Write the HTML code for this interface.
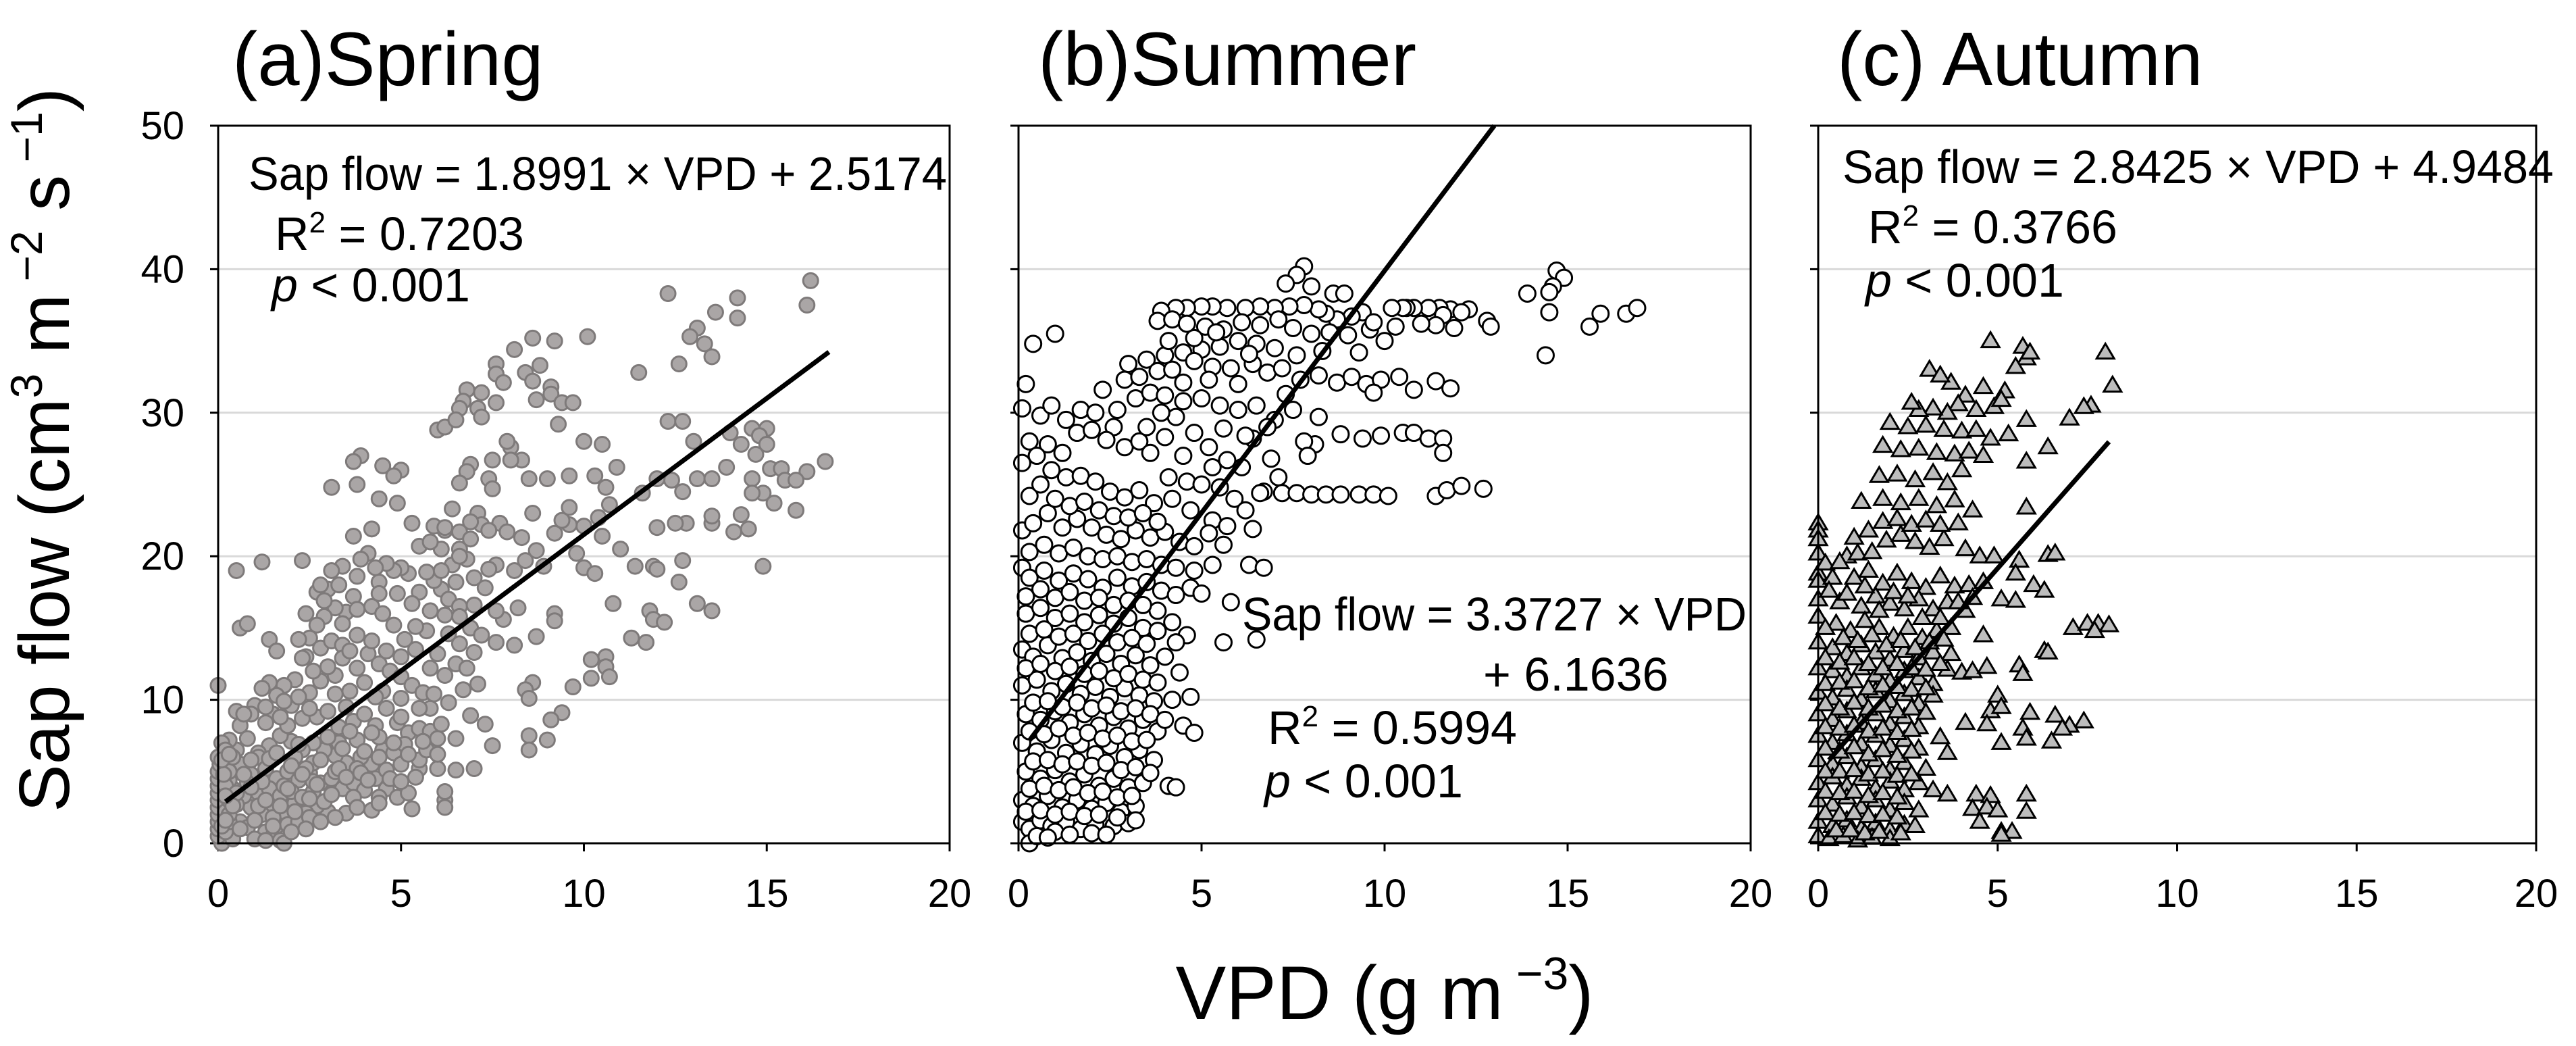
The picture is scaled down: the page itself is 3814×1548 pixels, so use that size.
<!DOCTYPE html>
<html><head><meta charset="utf-8">
<style>
html,body{margin:0;padding:0;background:#fff;}
svg{display:block;font-family:"Liberation Sans",Arial,sans-serif;}
</style></head>
<body>
<svg id="fig" width="3814" height="1548" viewBox="0 0 3814 1548" xmlns="http://www.w3.org/2000/svg">
<rect width="3814" height="1548" fill="#fff"/>
<text transform="translate(102,666) rotate(-90)" text-anchor="middle" font-size="106">Sap flow (cm<tspan font-size="66" dy="-40">3</tspan><tspan dy="40"> m</tspan><tspan font-size="66" dy="-40"> −2</tspan><tspan dy="40"> s</tspan><tspan font-size="66" dy="-40"> −1</tspan><tspan dy="40">)</tspan></text>
<text x="2050" y="1508" text-anchor="middle" font-size="112">VPD (g m<tspan font-size="68" dy="-44"> −3</tspan><tspan dy="44">)</tspan></text>
<g id="panels"></g>
</svg>
<script>
// Spring data [VPD, sap flow]
const springPoints = [[16.2,39.2],[16.1,37.5],[12.3,38.3],[14.2,38],[14.2,36.6],[13.6,37],[13.1,35.9],[12.9,35.3],[13.3,34.8],[13.5,33.9],[12.6,33.4],[11.5,32.8],[10.1,35.3],[9.2,35],[8.6,35.2],[8.1,34.4],[7.6,33.4],[7.6,32.7],[7.8,32.1],[8.4,32.8],[8.6,32.2],[8.8,33.3],[9.1,31.8],[9.1,31.3],[8.7,30.9],[7.6,30.7],[7.2,31.4],[6.8,31.6],[6.7,30.8],[6.6,30.3],[7.1,30.3],[7.2,29.7],[9.4,30.7],[9.7,30.7],[9.3,29.2],[12.3,29.4],[12.7,29.4],[13,28],[14,28.6],[14.6,28.9],[15,28.9],[14.8,28.4],[14.3,27.8],[15,27.8],[14.7,27.1],[16.6,26.6],[16.1,25.9],[15.1,26.1],[15.4,26.1],[14.6,25.4],[15.5,25.3],[15.8,25.3],[14.9,24.4],[14.6,24.4],[15.2,23.7],[15.8,23.2],[14.3,22.9],[14.1,21.7],[14.5,21.9],[13.5,22.3],[13.5,22.8],[12.8,22.3],[12.5,22.3],[12,22],[13.1,25.4],[13.5,25.4],[13.9,26.2],[12.4,25.3],[12,25.4],[11.6,24.4],[12.7,24.5],[10.9,26.2],[10.6,24.8],[10.5,27.8],[10,28],[10.3,25.6],[10.7,23.6],[10.4,22.7],[10,22.1],[9.6,22.2],[9.6,23.4],[9.4,22.5],[9.6,25.6],[9,25.4],[8.5,25.4],[8.3,26.7],[8,27.6],[8,26.7],[7.9,28],[7.5,26.7],[6.9,26.4],[6.8,25.9],[6.6,25.1],[7.4,25.4],[7.5,24.7],[7.1,23],[6.4,23.3],[6.2,21.8],[5.9,22.1],[6.6,21.7],[6.9,21.2],[7.2,22.2],[7.7,22.3],[7.9,21.7],[8.3,21.3],[8.6,23],[9.2,21.6],[8.7,20.4],[8.9,19.3],[8.1,19],[7.6,19.4],[8.4,19.7],[9.8,20.2],[10,19.2],[10.3,18.8],[10.5,21.4],[11,20.5],[11.9,19.3],[11.4,19.3],[12,19.1],[12.7,19.7],[12.6,18.2],[14.9,19.3],[11.8,16.2],[11.9,15.6],[12.2,15.4],[11.3,14.3],[11.7,14],[13.1,16.7],[13.5,16.2],[10.8,16.7],[9.2,16],[9.2,15.5],[8.2,16.4],[7.8,15.6],[7.6,14],[8.1,13.8],[8.7,14.4],[10.6,13],[10.6,12.3],[10.2,12.8],[10.7,11.6],[10.2,11.5],[9.7,10.9],[8.6,11.2],[8.4,10.7],[8.5,10.1],[9.4,9.1],[9.1,8.6],[9,7.2],[8.5,7.5],[8.5,6.5],[7.5,6.8],
[6,28.8],[6.2,29],[6.5,29.5],[6.2,22],[6.1,20.5],[6.4,19.4],[6.1,17.7],[6.3,17],[6.6,16.5],[5.8,16.2],[5.5,17.5],[5.2,18.8],[5,19.2],[4.8,19],[4.6,19.5],[4.4,18.2],[4.2,16.5],[4.5,16],[4.8,15.2],[5.1,14.2],[5.4,13.5],[5.7,14.8],[6,13.2],[6.3,14.6],[6.6,15.8],[6.9,15],[7.2,14.5],[7.6,16.2],[7.3,17.8],[7,18.5],[6.8,19.8],[6.6,20.5],[6.9,22.4],[7.4,21.8],[5.3,22.3],[5.5,20.7],[5.8,21],[4.9,23.7],[4.4,24],[4.5,26.3],[3.9,27],[3.7,26.6],[5,26],[3.1,24.8],[3.7,21.4],[4.2,21.9],[4.1,20.2],[3.8,18.6],[3.4,19.3],[3.1,19],[3,17.7],[3.7,17.2],[3.5,16.1],[3.2,16.4],[2.9,15.8],[2.7,15.2],[2.5,14.3],[2.2,14.2],[2.4,13],[2.8,13.6],[3.1,14.1],[3.4,13.8],[3.8,14.5],[4.1,13.2],[4.4,12.5],[4.7,12],[5,11.6],[5.3,11],[5.6,10.5],[5.9,10.4],[6.2,11.7],[6.5,12.5],[6.8,12.2],[7.1,11.1],[4,11.2],[3.6,10.6],[3.2,11.7],[2.8,11.3],[2.5,10.5],[2.1,11.4],[1.8,11],[1.6,10.3],[1.4,11.2],[1.2,10.8],[1,9.6],[1.5,9],[2,9.6],[2.3,8.7],[2.7,8.8],[3,9.2],[3.3,8.1],[3.7,8.5],[4,9],[4.3,8.2],[4.6,9.4],[4.9,8.4],[5.2,7.7],[5.5,8],[5.8,7.8],[6.1,8.3],[6.5,7.3],[6.9,8.9],[5.5,5.2],[6,5.2],[6.5,5.1],[7,5.2],[6.2,3],[6.2,2.5],[6.2,3.6],[5.5,5.8],[4.5,6.5],[4.8,6.3],[5,5.5],[4.2,5.5],[3.9,6],[3.5,5.6],[3.2,6.1],[2.9,6.5],[2.6,7],[2.3,6.5],[2,7.1],[1.7,7.5],[1.4,6.8],[1.1,6.3],[0.8,7.3],[0.6,8.2],[0.9,9],[0.5,9.2],[1.1,6],[0.6,5.5],[0.9,4.8],[1.3,5.2],[1.6,4.5],[1.9,5],[2.2,4.4],[2.5,4.9],[2.8,4.2],[3.1,4.5],[3.4,3.8],[3.7,4.2],[4,3.7],[4.3,4.5],[4.6,3.8],[4.9,3.2],[5.2,3.5],[4.2,2.3],[3.5,2.1],[3,2.2],[2.7,2.6],[2.4,2.1],[2.1,2.8],[1.8,2.2],[1.5,2.7],[1.2,2],[0.9,2.5],[0.7,3.3],[0.5,2.7],[0.4,3.8],[0.4,1.2],[0.6,1.5],[0.8,1.1],[1,1.6],[1.3,0.8],[1.5,0.5],[1.7,0.2],[1.8,0],[1.6,1.2],[1.9,1.3],[2.2,1.5],[2.5,1.8],[1.1,3.5],[1.4,3.8],[1.7,3.3],[2,3.6],[2.3,3.2],[2.6,3.6],[0.8,4.2],[0.3,4.4],[0.5,6.5],[0.3,7.2],[0.7,9],[1.3,8.4],[1.9,8.2],[2.1,6],[2.6,5.6],[3.3,7],[3.8,7.2],[4.4,7.4],[5.1,6.9],[5.7,6.5],[6,6.2],[0.2,0.3],[0.1,0],[0.4,0.3],[2.7,17.5],[2.8,18],[4.8,25.6],[3.8,25],[6.6,20],[5.9,18.3],
[0,0.5],[0,1],[0,1.5],[0,2],[0,2.5],[0,3],[0,3.5],[0,4],[0,4.5],[0,5],[0.05,5.5],[0,6],[0.1,7],[0,11],[0.2,0.8],[0.3,1.5],[0.2,2.2],[0.3,3],[0.2,4],[0.3,5],[0.4,6],[0.2,6.5],[0.5,19],[0.6,15],[0.8,15.3],[1.2,19.6],[2.3,19.7],[1.4,14.2],[1.6,13.4]];
const springExtra = [[0.3,2],[0.5,3.5],[0.7,4.8],[0.9,5.8],[1.2,4.3],[1.4,5.9],[1.6,6.3],[1.8,4],[2,5.4],[2.2,6.9],[2.4,5.2],[2.6,4.3],[2.8,5.8],[3,7.4],[3.2,5],[3.4,6.6],[3.6,7.8],[3.8,5.2],[4,6.4],[4.2,7.7],[4.4,6],[4.6,5.1],[4.8,7],[5,8.8],[5.2,6.2],[5.4,4.6],[5.6,7.1],[5.8,9.4],[6,7.3],[0.4,2.6],[0.6,1],[0.9,3.9],[1.1,2.6],[1.3,3],[1.5,1.8],[1.7,2.6],[1.9,3.8],[2.1,2.2],[2.3,4.8],[2.5,3.1],[2.7,4.1],[2.9,2.9],[3.1,3.4],[3.3,5.2],[3.5,4.6],[3.7,3.2],[3.9,4.9],[4.1,4.4],[4.4,3.2],[4.7,4.5],[5,4.3],[1.8,9.9],[2.2,10.2],[2.6,12],[3,12.3],[3.4,12.9],[3.8,12.2],[4.2,14.1],[4.6,13.4],[5,13],[5.4,15.1],[5.8,12.2],[6.2,15.9],[6.6,13.9],[7,13.3],[3.4,15.3],[3.8,16.3],[4.4,17.4],[4.9,17.4],[5.3,16.7],[5.7,18.9],[6.1,19],[6.5,18.2],[7,16.6],[7.4,19.1],[2.4,16],[2.9,16.9],[3.3,18],[3.9,19.8],[4.3,19.2],[1.3,9.5],[1.7,8.8],[2.5,9.4],[3.5,9.5],[4.5,10.6],[5,10.1],[5.5,9.4],[6.3,9.8],[6.7,10.7],[7.3,8.3],[3.2,10.4],[2.3,12.9],[3.6,13.4],[4.3,10.2],[0.1,1.2],[0.2,3.3],[0.15,4.8],[0.1,5.8],[0.3,6.2],[0.2,1.6],[1,0.3],[1.3,0.2],[1.5,1.2],[2,0.8],[2.4,1],[2.8,1.5],[3.2,1.8],[3.8,2.5],[4.4,2.8],[5.3,2.4]];
// Summer data
const summerPoints = [[7.8,40.2],[7.6,39.6],[7.3,39],[8,38.8],[8.6,38.3],[8.9,38.3],[14.7,39.9],[14.9,39.4],[14.6,38.8],[14.5,38.4],[13.9,38.3],[14.5,37],[14.4,34],[15.6,36],[15.9,36.9],[16.6,36.9],[16.9,37.3],[12.3,37.2],[12.8,36.4],[12.9,36],[11.8,37.2],[11.5,37.3],[11.2,37.3],[10.8,37.3],[10.6,37.3],[10.5,37.3],[10.2,37.3],[9.4,37],[9.1,36.7],[12.1,37],[11.6,36.8],[11.9,35.9],[11.4,36.1],[11,36.2],[10.3,36],[10,35],[9.6,35.8],[9.7,36.3],[8.7,36.5],[8.4,36.9],[8.2,37.2],[7.8,37.5],[7.4,37.4],[7,37.3],[6.6,37.4],[6.2,37.3],[5.7,37.3],[5.3,37.4],[5,37.4],[4.6,37.3],[4.3,37.3],[3.9,37.1],[3.8,36.4],[4.2,36.5],[4.6,36.2],[5.1,36],[5.6,35.8],[6.1,36.3],[6.6,36.1],[7.1,36.5],[7.5,35.9],[8,35.5],[8.5,35.6],[9,35.4],[6.5,34.8],[6,35],[5.5,34.6],[5,34.4],[4.5,34.2],[4,34],[3.5,33.7],[3,33.4],[2.9,32.3],[3.3,32.5],[3.8,32.9],[4.2,33],[4.8,33.6],[5.3,33.2],[5.8,33.1],[6.4,33.4],[6.8,32.8],[7.2,33.1],[7.7,32.3],[8.2,32.6],[8.7,32.1],[9.1,32.5],[9.5,32],[9.9,32.3],[10.4,32.5],[10.8,31.6],[11.4,32.2],[11.8,31.7],[9.7,31.4],[2.7,30.2],[2.6,29],[3.2,31],[3.6,31.4],[4,31.2],[4.5,30.8],[5,31],[5.5,30.5],[6,30.2],[6.5,30.5],[7,29.5],[7.5,30.2],[8.2,29.7],[1,35.5],[0.4,34.8],[0.1,30.3],[0.8,27.8],[1.2,27.2],[1.6,28.6],[2,28.8],[2.4,28.1],[2.9,27.6],[3.3,28],[3.6,27.2],[4,28.3],[4.5,27],[5.2,27.6],[5.7,26.7],[6.1,26.2],[6.7,24.5],[7.1,25.5],[6.9,26.8],[7.2,24.4],[7.6,24.4],[8,24.3],[8.4,24.3],[8.8,24.3],[9.3,24.3],[9.7,24.3],[10.1,24.2],[11.4,24.2],[11.7,24.6],[12.1,24.9],[12.7,24.7],[6.6,24.4],[8.8,28.5],[9.4,28.2],[9.9,28.4],[10.5,28.6],[10.8,28.6],[11.2,28.2],[11.6,28.2],[11.6,27.2],[8.1,27.8],[7.8,28],[7.9,27],[6.4,28.2],[3.5,29],[0.1,26.5],[0.3,24.2],[0.6,25],[0.9,26],[1.3,25.5],[1.7,25.6],[2.1,25.2],[2.5,24.5],[2.9,24.1],[3.3,24.6],[3.7,23.7],[4.2,24],[4.7,23.2],[5.3,22.5],[5.7,22.1],[6.4,21.9],[0.1,21.8],[0.4,22.3],[0.8,23],[1.2,22],[1.6,22.6],[2,22],[2.4,21.5],[2.8,21.2],[3.2,21.8],[3.6,21.3],[4,21.7],[4.4,21],[4.8,20.7],[5.2,21.6],[5.6,20.8],[6.3,19.4],[6.7,19.2],[0.1,19.2],[0.3,18.5],[0.7,19],[1.1,18.3],[1.5,18.8],[1.9,18.4],[2.3,17.8],[2.7,18.5],[3.1,17.9],[3.5,18.2],[3.9,17.6],[4.3,17.3],[4.7,17.8],[5,17.4],[5.8,16.8],[0.2,16],[0.6,16.4],[1,15.7],[1.4,16],[1.8,15.4],[2.2,15.9],[2.6,15.3],[3,15.7],[3.4,15],[3.8,16.2],[4.2,15.4],[4.6,14.5],[5.6,14],[6.5,14.2],[0.1,13.5],[0.4,13],[0.8,13.8],[1.2,12.9],[1.6,13.3],[2,12.7],[2.4,13.2],[2.8,12.5],[3.2,13.1],[3.6,12.4],[4,13],[4.4,11.9],[4.2,10],[4.7,10.2],[0.1,11],[0.5,11.4],[0.9,10.6],[1.3,11.1],[1.7,10.4],[2.1,10.9],[2.5,10.2],[2.9,10.8],[3.3,10.3],[3.7,9.9],[0.2,9],[0.6,8.6],[1,9.2],[1.4,8.4],[1.8,9],[2.2,8.2],[2.6,8.8],[3,8],[3.4,8.6],[3.8,7.8],[4.5,8.2],[4.8,7.7],[0.1,7],[0.5,6.4],[0.9,7.2],[1.3,6.3],[1.7,6.9],[2.1,6.2],[2.5,6.8],[2.9,6],[3.3,6.5],[3.7,5.8],[4.1,4],[4.3,3.9],[0.2,5],[0.6,4.5],[1,5.1],[1.4,4.3],[1.8,4.8],[2.2,4],[2.6,4.5],[3,3.9],[3.4,4.2],[0.1,3],[0.4,2.6],[0.8,3.3],[1.2,2.5],[1.6,3],[2,2.4],[2.4,2.8],[2.8,2.2],[3.2,2.6],[0.1,1.5],[0.3,1],[0.6,1.6],[0.9,1.2],[1.3,1.5],[1.7,1],[2.1,1.3],[2.6,1.2],[3,1.4],[0.3,0],[0.5,0.5],[1,0.8]];
const summerExtra = [[0.3,28],[0.6,29.8],[0.9,30.5],[1.3,29.5],[1.7,30.2],[2.1,30],[2.3,31.6],[0.2,32],[0.5,27],[1,24],[1.4,23.5],[1.8,23.8],[2.2,23.2],[2.6,22.8],[3,22.7],[3.4,23],[3.8,22.4],[4.1,25.5],[4.6,25.2],[5,25],[5.5,24.8],[5.9,24],[6.2,23.2],[0.3,20.3],[0.7,20.8],[1.1,20.2],[1.5,20.6],[1.9,20],[2.3,19.8],[2.7,20],[3.1,19.6],[3.5,19.8],[3.9,19.4],[4.3,19.2],[4.8,19],[5.3,19.4],[0.2,17.2],[0.6,17.7],[1,17.1],[1.4,17.5],[1.8,16.9],[2.2,17.1],[2.6,16.6],[3,16.9],[3.4,16.6],[3.8,14.8],[4.3,14],[0.3,14.6],[0.7,14.9],[1.1,14.4],[1.5,14.6],[1.9,14.1],[2.3,14.6],[2.7,14],[3.1,14.3],[3.5,13.9],[0.2,12.2],[0.6,12.5],[1,12],[1.4,12.3],[1.8,11.8],[2.2,12],[2.6,11.5],[3,11.8],[3.4,11.4],[3.8,11.2],[0.4,9.8],[0.8,9.9],[1.2,9.5],[1.6,9.8],[2,9.4],[2.4,9.6],[2.8,9.2],[3.2,9.4],[3.6,9],[4,8.6],[0.3,7.8],[0.7,7.6],[1.1,8],[1.5,7.5],[1.9,7.7],[2.3,7.3],[2.7,7.5],[3.1,7.1],[3.5,7.2],[0.4,5.7],[0.8,5.8],[1.2,5.5],[1.6,5.7],[2,5.4],[2.4,5.6],[2.8,5.1],[3.2,5.3],[3.6,4.9],[0.3,3.8],[0.7,4],[1.1,3.7],[1.5,3.9],[1.9,3.5],[2.3,3.6],[2.7,3.2],[3.1,3.3],[0.2,2.2],[0.6,2.3],[1,2],[1.4,2.2],[1.8,1.9],[2.2,2],[2.7,1.8],[3.2,1.6],[0.8,0.4],[1.4,0.6],[2,0.7],[2.4,0.6],[5.3,26.2],[4.8,28.6],[4.3,29.7],[3.9,30],[5.6,28.9],[6.2,28.4],[6.8,29],[7.3,31.3],[6,32],[5.2,32.3],[4.5,32.1],[4.1,35],[4.8,35.2],[5.4,35.6],[6.3,34.1],[7,34.5],[7.6,34],[8.3,34.3],[9.3,34.2]];
// Autumn data
const autumnPoints = [[4.8,35],[5.7,34.6],[5.8,33.8],[5.5,33.2],[5.9,34.2],[8,34.2],[8.2,31.9],[3.1,33],[3.7,32.1],[3.4,32.6],[5.2,31.5],[4.6,31.8],[4.9,30.4],[5.1,30.9],[4.4,30.2],[4.1,31.2],[3.9,30.6],[3.6,30],[3.2,30.3],[2.8,30.2],[2.6,30.7],[7.6,30.5],[7.4,30.4],[7,29.6],[5.8,29.5],[2,29.3],[2.5,29],[3,29.1],[3.5,28.8],[4,28.7],[4.4,28.8],[4.8,28.2],[5.3,28.5],[1.8,27.7],[2.3,27.4],[2.8,27.5],[3.3,27.2],[3.8,27.1],[4.2,27.3],[4.6,27],[6.4,27.6],[5.8,26.6],[1.7,25.6],[2.2,25.7],[2.7,25.3],[3.2,25.8],[3.6,25.1],[4,26],[1.2,23.8],[1.8,24],[2.3,23.7],[2.8,24],[3.3,23.5],[3.8,23.9],[4.3,23.2],[5.8,23.4],[0,22.3],[0,21.8],[0,21.2],[0,20.2],[0.8,20],[1.1,20.2],[1.5,20.3],[1.9,21.1],[2.3,21.5],[2.7,21],[3.1,20.6],[3.5,21.2],[4.1,20.5],[4.5,20],[4.9,20],[5.6,19.7],[6.4,20.1],[6.6,20.2],[0,18.8],[0,18.3],[0.4,18.5],[1,18.5],[1.4,19],[1.8,18.1],[2.2,18.8],[2.6,18.2],[3,17.8],[3.4,18.6],[3.8,17.9],[4.2,18],[4.6,18.2],[5.5,18.8],[6,18],[6.3,17.6],[0,17],[0.6,16.8],[1.2,16.5],[1.6,17.2],[2,16.7],[2.4,16.3],[2.8,17],[3.2,16.3],[3.6,16.8],[4.1,16.2],[5.1,17],[5.5,16.9],[0,15.8],[0.5,15.3],[0.9,14.8],[1.3,15.5],[1.7,15],[2.1,14.4],[2.5,15],[2.9,14.3],[3.3,14.8],[3.7,15],[4.6,14.5],[7.1,15],[7.5,15.3],[7.8,15.3],[8.1,15.2],[7.7,14.8],[0,14],[0.4,13.6],[0.8,13.2],[1.2,13.8],[1.6,13.3],[2,12.8],[2.4,13.4],[2.8,12.9],[3.2,13.3],[3.7,13.2],[6.3,13.4],[6.4,13.3],[0,12.2],[0.4,12],[0.8,11.6],[1.2,12.2],[1.6,11.7],[2,11.3],[2.4,12],[2.8,11.5],[3.2,11.1],[3.6,12.1],[4,11.9],[4.3,12],[4.7,12.3],[5.6,12.4],[0,10.5],[0.4,10.1],[0.8,10.7],[1.2,10],[1.6,10.6],[2,9.9],[2.4,10.4],[2.8,9.7],[3.2,10.3],[5,10.3],[5.7,11.8],[0,9],[0.4,8.6],[0.8,9.2],[1.2,8.4],[1.6,9],[2,8.3],[2.4,8.8],[2.8,8.1],[4.8,9.2],[5.1,9.5],[5.9,9.1],[6.6,8.9],[0,7.5],[0.4,7],[0.8,7.6],[1.2,6.9],[1.6,7.5],[2,6.8],[2.4,7.2],[2.8,6.6],[3.4,7.4],[4.1,8.4],[4.7,8.3],[5.7,8],[7.4,8.5],[7,8.2],[6.8,8],[0,5.8],[0.4,5.5],[0.8,6],[1.2,5.3],[1.6,5.8],[2,5.1],[2.4,5.6],[3,5.2],[3.6,6.3],[5.1,7],[5.8,7.3],[6.5,7.1],[0,4.2],[0.4,4.6],[0.8,4],[1.2,4.5],[1.6,3.8],[2,4.3],[2.4,3.7],[2.8,4.2],[3.2,3.7],[3.6,3.4],[4.4,3.4],[4.8,3.3],[5.8,3.4],[0,3],[0.4,2.7],[0.8,3.2],[1.2,2.5],[1.6,3],[2,2.3],[2.4,2.8],[2.8,2.3],[4.3,2.4],[4.7,2.5],[5,2.3],[5.8,2.2],[0,1.5],[0.4,1.2],[0.8,1.6],[1.2,1],[1.6,1.4],[2,0.9],[2.4,1.3],[4.5,1.5],[5.1,0.8],[5.4,0.8],[0,0.5],[0.3,0.3],[0.7,0.5],[1.1,0.2],[1.5,0.4],[2,0.3],[5.1,0.6]];
const autumnExtra = [[0.2,19.5],[0.6,19.6],[1,21.3],[1.4,21.8],[1.8,22.4],[2.2,22.6],[2.6,22.2],[3,22.5],[3.4,22.2],[3.9,22.3],[0.3,17.6],[0.8,17.4],[1.3,17.9],[1.7,16.2],[2.1,17.5],[2.5,17.2],[2.9,15.7],[3.4,15.7],[3.9,16.8],[4.3,17.1],[0.2,15],[0.7,14.3],[1.1,14.1],[1.5,14.5],[1.9,13.8],[2.3,14.1],[2.7,13.6],[3.1,14],[3.5,14.2],[0.2,12.9],[0.6,12.6],[1,12.9],[1.4,12.5],[1.8,12.2],[2.2,12.5],[2.6,12.2],[3,12.1],[3.4,12.5],[0.2,11.1],[0.6,11.2],[1,11.3],[1.4,10.8],[1.8,11],[2.2,10.9],[2.6,10.7],[3,10.8],[0.2,9.7],[0.6,9.4],[1,9.8],[1.4,9.4],[1.8,9.6],[2.2,9.2],[2.6,9.4],[3,9.1],[0.2,8.1],[0.6,8],[1,8.2],[1.4,7.8],[1.8,8],[2.2,7.7],[2.6,7.9],[0.2,6.6],[0.6,6.4],[1,6.7],[1.4,6.2],[1.8,6.5],[2.2,6.1],[2.6,6.4],[0.2,5],[0.6,5],[1,5.1],[1.4,4.8],[1.8,5],[2.2,4.7],[2.6,4.8],[0.2,3.6],[0.6,3.5],[1,3.6],[1.4,3.3],[1.8,3.5],[2.2,3.2],[0.2,2.1],[0.6,2],[1,2.1],[1.4,1.9],[1.8,2],[2.2,1.8],[0.5,0.9],[0.9,0.9],[1.3,0.7],[1.7,0.8],[2.3,0.7],[2.7,1.2]];
// Regression: [slope, intercept, xStart, xEnd]
const springFit = [1.8991, 2.5174, 0.2, 16.7];
const summerFit = [3.3727, 6.1636, 0.3, 13.0];
const autumnFit = [2.8425, 4.9484, 0.3, 8.1];
const xTicks = [0, 5, 10, 15, 20];
const yTicks = [0, 10, 20, 30, 40, 50];

const NS = 'http://www.w3.org/2000/svg';
const root = document.getElementById('panels');
function mk(tag, attrs, parent) {
  const e = document.createElementNS(NS, tag);
  for (const k in attrs) e.setAttribute(k, attrs[k]);
  (parent || root).appendChild(e);
  return e;
}
const Y0 = 1248, Y1 = 186;
function drawPanel(key, left, right, pts, fit, marker, showY) {
  const g = mk('g', {});
  
  
  const sx = v => left + v / 20 * (right - left);
  const sy = v => Y0 - v / 50 * (Y0 - Y1);
  for (const t of yTicks) {
    if (t > 0 && t < 50) {
      const gl = mk('line', {x1: left, x2: right, y1: sy(t), y2: sy(t), stroke: '#d9d9d9', 'stroke-width': 3}, g);
      
      
    }
    mk('line', {x1: left - 12, x2: left, y1: sy(t), y2: sy(t), stroke: '#000', 'stroke-width': 3}, g);
    if (showY) {
      const tl = mk('text', {x: left - 50, y: sy(t) + 20, 'text-anchor': 'end', 'font-size': 58}, g);
      tl.textContent = t;
      
      
    }
  }
  for (const t of xTicks) {
    mk('line', {x1: sx(t), x2: sx(t), y1: Y0, y2: Y0 + 12, stroke: '#000', 'stroke-width': 3}, g);
    const tl = mk('text', {x: sx(t), y: 1342, 'text-anchor': 'middle', 'font-size': 58}, g);
    tl.textContent = t;
    
    
  }
  const pg = mk('g', {}, g);
  
  
  for (const p of pts) {
    const cx = sx(p[0]), cy = sy(p[1]);
    let m;
    if (marker === 'gray') m = mk('circle', {cx, cy, r: 11, fill: '#aaa6a6', stroke: '#7e7a7a', 'stroke-width': 3}, pg);
    else if (marker === 'open') m = mk('circle', {cx, cy, r: 12, fill: '#fff', stroke: '#000', 'stroke-width': 3}, pg);
    else m = mk('polygon', {points: (cx) + ',' + (cy - 13) + ' ' + (cx - 13) + ',' + (cy + 9) + ' ' + (cx + 13) + ',' + (cy + 9), fill: '#bdbdbd', stroke: '#000', 'stroke-width': 3}, pg);
    
    
  }
  let xa = fit[2], xb = fit[3];
  let ya = fit[0] * xa + fit[1], yb = fit[0] * xb + fit[1];
  if (yb > 50) { xb = (50 - fit[1]) / fit[0]; yb = 50; }
  const rl = mk('line', {x1: sx(xa), y1: sy(ya), x2: sx(xb), y2: sy(yb), stroke: '#000', 'stroke-width': 7}, g);
  
  
  const fr = mk('rect', {x: left, y: Y1, width: right - left, height: Y0 - Y1, fill: 'none', stroke: '#000', 'stroke-width': 3}, g);
  
  
}
drawPanel('spring', 323, 1406, springPoints.concat(springExtra), springFit, 'gray', true);
drawPanel('summer', 1508, 2592, summerPoints.concat(summerExtra), summerFit, 'open', false);
drawPanel('autumn', 2692, 3755, autumnPoints.concat(autumnExtra), autumnFit, 'tri', false);
</script>
<script>
const svg = document.getElementById('fig');
const texts = [
  ['title-spring', 344, 126, 112, '(a)Spring'],
  ['title-summer', 1537, 126, 112, '(b)Summer'],
  ['title-autumn', 2720, 126, 112, '(c) Autumn']
];
for (const t of texts) {
  const e = document.createElementNS('http://www.w3.org/2000/svg', 'text');
  e.setAttribute('x', t[1]); e.setAttribute('y', t[2]); e.setAttribute('font-size', t[3]);
  e.textContent = t[4];
  
  
  svg.appendChild(e);
}
</script>
<script>
(function(){
  const s = document.getElementById('fig');
  const html = `
  <text x="368" y="281" font-size="70" textLength="1034" lengthAdjust="spacingAndGlyphs">Sap flow = 1.8991 × VPD + 2.5174</text>
  <text x="407" y="370" font-size="70">R<tspan font-size="44" dy="-26">2</tspan><tspan dy="26"> = 0.7203</tspan></text>
  <text x="402" y="446" font-size="70"><tspan font-style="italic">p</tspan> &lt; 0.001</text>
  <text x="1839" y="933" font-size="70" textLength="747" lengthAdjust="spacingAndGlyphs">Sap flow = 3.3727 × VPD</text>
  <text x="2196" y="1022" font-size="70">+ 6.1636</text>
  <text x="1877" y="1101" font-size="70">R<tspan font-size="44" dy="-26">2</tspan><tspan dy="26"> = 0.5994</tspan></text>
  <text x="1872" y="1180" font-size="70"><tspan font-style="italic">p</tspan> &lt; 0.001</text>
  <text x="2728" y="271" font-size="70" textLength="1053" lengthAdjust="spacingAndGlyphs">Sap flow = 2.8425  × VPD + 4.9484</text>
  <text x="2766" y="360" font-size="70">R<tspan font-size="44" dy="-26">2</tspan><tspan dy="26"> = 0.3766</tspan></text>
  <text x="2762" y="439" font-size="70"><tspan font-style="italic">p</tspan> &lt; 0.001</text>`;
  const g = document.createElementNS('http://www.w3.org/2000/svg', 'g');
  
  
  g.innerHTML = html;
  s.appendChild(g);
})();
</script>
</body></html>
